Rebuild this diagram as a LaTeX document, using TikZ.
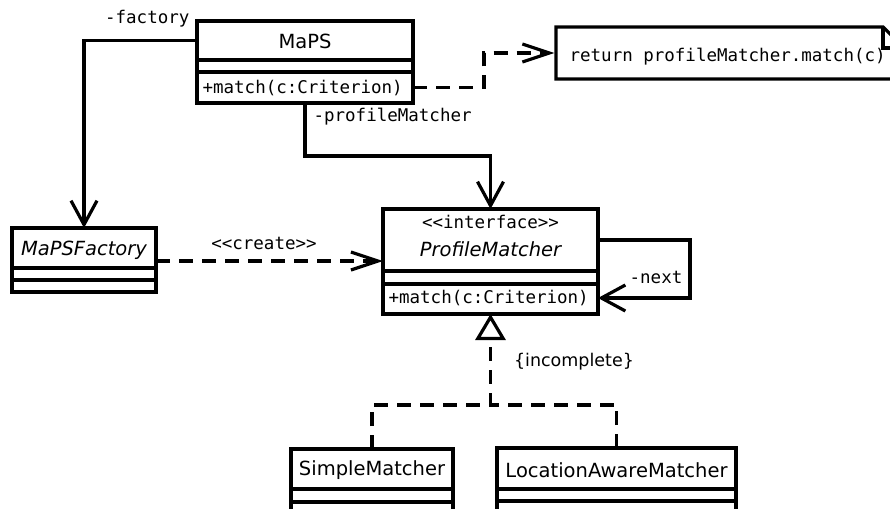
\documentclass[tikz,border=0pt]{standalone}
\usepackage{fontspec}
\setmainfont{DejaVu Sans}
\setmonofont{DejaVu Sans Mono}
\usetikzlibrary{arrows.meta}
\begin{document}
\begin{tikzpicture}[x=1pt,y=-1pt, line width=3.2pt,
  comp/.style={draw, line width=3.2pt, inner sep=0pt, outer sep=0pt},
  nm/.style={font=\fontsize{19.5}{22}\selectfont, inner sep=0pt},
  nmi/.style={font=\fontsize{19.5}{22}\selectfont\itshape, inner sep=0pt},
  mono/.style={font=\fontsize{17.5}{20}\selectfont\ttfamily, inner sep=0pt},
  assoc/.style={-{Straight Barb[length=24pt,width=26pt,line width=3.2pt]}},
  dep/.style={dash pattern=on 14pt off 9pt, -{Straight Barb[length=27pt,width=18pt,line width=3.2pt]}},
  dsh/.style={dash pattern=on 14pt off 9pt},
  real/.style={dash pattern=on 14pt off 9pt, -{Triangle[open,length=26pt,width=30pt,line width=3.2pt,fill=white]}}]
\useasboundingbox (0,0) rectangle (890,508);

% MaPS
\node[comp, minimum width=216pt, minimum height=39pt] (mapsname) at (305,40.5) {};
\node[nm] (mapslabel) at (305,41) {MaPS};
\node[comp, minimum width=216pt, minimum height=12pt] (mapsattr) at (305,66) {};
\node[comp, minimum width=216pt, minimum height=31pt] (maps) at (305,87.5) {};
\node[mono, anchor=west] (mapsop) at (201,88) {+match(c:Criterion)};

% note
\node[inner sep=0pt, minimum width=348pt, minimum height=52pt] (note) at (730,53) {};
\draw[line join=miter] (556,27) -- (883,27) -- (904,48) -- (904,79) -- (556,79) -- cycle;
\draw (883,27) -- (883,48) -- (904,48);
\node[mono, anchor=west] (notetext) at (568,57) {return profileMatcher.match(c)};

% MaPSFactory
\node[comp, minimum width=144pt, minimum height=40pt] (mf) at (84,248) {};
\node[nmi] (mflabel) at (84,250) {MaPSFactory};
\node[comp, minimum width=144pt, minimum height=12pt] (mfattr) at (84,274) {};
\node[comp, minimum width=144pt, minimum height=12pt] (mfops) at (84,286) {};

% ProfileMatcher
\node[comp, minimum width=215pt, minimum height=62pt] (pm) at (490.5,240) {};
\node[mono] (pmstereo) at (490.5,222) {<<interface>>};
\node[nmi] (pmlabel) at (490.5,249) {ProfileMatcher};
\node[comp, minimum width=215pt, minimum height=13pt] (pmattr) at (490.5,277.5) {};
\node[comp, minimum width=215pt, minimum height=30pt] (pmops) at (490.5,299) {};
\node[mono, anchor=west] (pmop) at (387,298) {+match(c:Criterion)};

% SimpleMatcher
\node[comp, minimum width=162pt, minimum height=40pt] (sm) at (372,469) {};
\node[nm] (smlabel) at (372,470) {SimpleMatcher};
\node[comp, minimum width=162pt, minimum height=13pt] (smattr) at (372,495.5) {};
\node[comp, minimum width=162pt, minimum height=20pt] (smops) at (372,512) {};

% LocationAwareMatcher
\node[comp, minimum width=239pt, minimum height=41pt] (law) at (616.5,468.5) {};
\node[nm] (lawlabel) at (616.5,470) {LocationAwareMatcher};
\node[comp, minimum width=239pt, minimum height=12pt] (lawattr) at (616.5,495) {};
\node[comp, minimum width=239pt, minimum height=20pt] (lawops) at (616.5,511) {};

% connectors
\draw[assoc] (mapsname.west) -| (mf.north);
\node[mono, anchor=east] (lfactory) at (191,19) {-factory};

\coordinate (pmbend) at (305,156);
\draw[assoc] (maps.south) -- (pmbend) -| (pm.north);
\node[mono, anchor=west] (lpm) at (312,117) {-profileMatcher};

\coordinate (nb1) at (484,87.5);
\coordinate (nb2) at (484,53);
\draw[dep] (maps.east) -- (nb1) -- (nb2) -- (note.west);

\draw[dep] (mf.east |- 0,261) -- (pm.west |- 0,261);
\node[mono] (lcreate) at (264,243) {<<create>>};

\coordinate (n1) at (690,240);
\coordinate (n2) at (690,298);
\draw[assoc] (pm.east |- n1) -- (n1) -- (n2) -- (pmops.east |- n2);
\node[mono] (lnext) at (656,277) {-next};

\coordinate (join) at (490.5,405);
\draw[real] (sm.north) |- (join) -- (pmops.south);
\draw[dsh] (law.north) |- (join);
\node[nm, font=\fontsize{17.5}{20}\selectfont] (linc) at (574,362) {\{incomplete\}};
\end{tikzpicture}
\end{document}
